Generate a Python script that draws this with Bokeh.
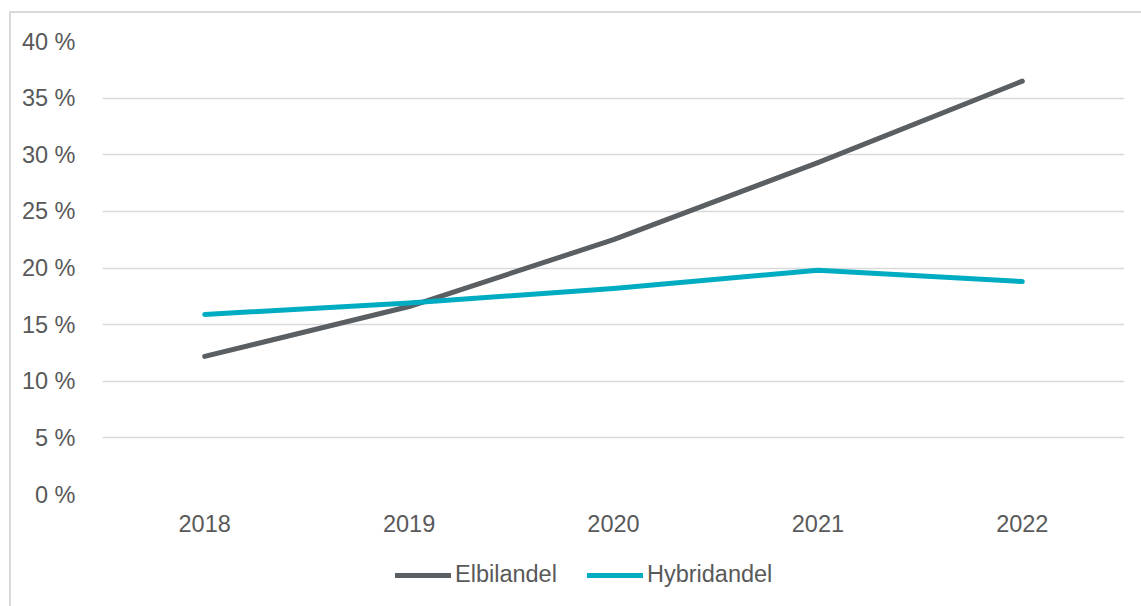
import numpy as np
from bokeh.plotting import figure
from bokeh.layouts import column
from bokeh.models import FactorRange, Range1d, FixedTicker, Legend, LegendItem
from bokeh.embed import file_html
from bokeh.resources import INLINE

years = ["2018", "2019", "2020", "2021", "2022"]
elbil = [12.2, 16.6, 22.5, 29.3, 36.5]
hybrid = [15.9, 16.9, 18.2, 19.8, 18.8]
y_ticks = [0, 5, 10, 15, 20, 25, 30, 35, 40]
y_labels = ["0 %", "5 %", "10 %", "15 %", "20 %", "25 %", "30 %", "35 %", "40 %"]
series_names = ["Elbilandel", "Hybridandel"]
series_colors = ["#5a5f63", "#00acc1"]

FONT = "Liberation Sans"
TXT = "#595959"
FS = "23.5px"

p = figure(x_range=FactorRange(*years, range_padding=0), y_range=Range1d(0, 40),
           width=1130, height=530, output_backend="svg", toolbar_location=None,
           min_border_left=91, min_border_right=17, min_border_top=28, min_border_bottom=49)
p.outline_line_color = None
p.xgrid.grid_line_color = None
p.ygrid.grid_line_color = "#d9d9d9"
p.ygrid.grid_line_width = 1.5
p.ygrid.ticker = FixedTicker(ticks=y_ticks)

p.yaxis.ticker = FixedTicker(ticks=y_ticks)
p.yaxis.major_label_overrides = {t: l for t, l in zip(y_ticks, y_labels)}
for ax in (p.xaxis[0], p.yaxis[0]):
    ax.axis_line_color = None
    ax.major_tick_line_color = None
    ax.minor_tick_line_color = None
    ax.major_label_text_font = FONT
    ax.major_label_text_font_size = FS
    ax.major_label_text_color = TXT
p.yaxis.major_label_standoff = 21
p.xaxis.major_label_standoff = 14

for vals, col in zip([elbil, hybrid], series_colors):
    p.line(years, vals, line_color=col, line_width=5, line_cap="round", line_join="round")

# legend strip beneath the chart
p2 = figure(width=1130, height=63, x_range=Range1d(0, 1), y_range=Range1d(0, 1),
            x_axis_type=None, y_axis_type=None, output_backend="svg", toolbar_location=None,
            min_border=0)
p2.outline_line_color = None
p2.grid.grid_line_color = None
items = []
for name, col in zip(series_names, series_colors):
    r = p2.line(x=np.array([np.nan]), y=np.array([np.nan]), line_color=col, line_width=5, line_cap="round")
    items.append(LegendItem(label=name, renderers=[r]))
legend = Legend(items=items, orientation="horizontal", location=(293, 18),
                label_text_font=FONT, label_text_font_size=FS, label_text_color=TXT,
                glyph_width=56, glyph_height=20, label_standoff=4, spacing=30,
                border_line_color=None, background_fill_alpha=0, margin=0, padding=0)
p2.add_layout(legend)

layout = column(p, p2, spacing=0)
layout.margin = (11, 0, 0, 9)
layout.styles = {"border-top": "2px solid #d9d9d9", "border-left": "2px solid #d9d9d9"}

open("out.html", "w").write(file_html(layout, INLINE))
